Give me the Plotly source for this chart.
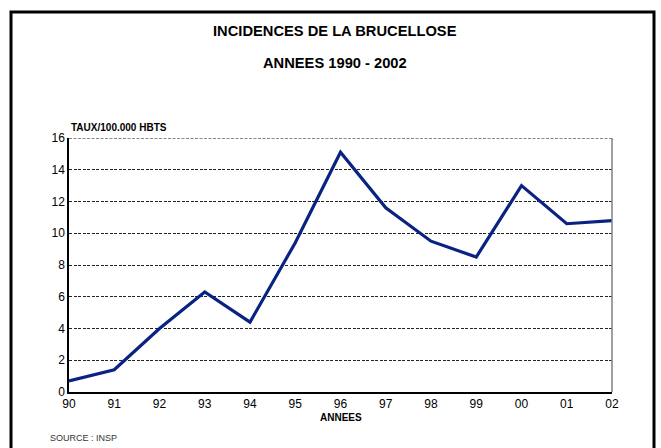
import plotly.graph_objects as go

years = ["90", "91", "92", "93", "94", "95", "96", "97", "98", "99", "00", "01", "02"]
rates = [0.7, 1.4, 4.0, 6.3, 4.4, 9.4, 15.1, 11.6, 9.5, 8.5, 13.0, 10.6, 10.8]
title_line1 = "INCIDENCES DE LA BRUCELLOSE"
title_line2 = "ANNEES 1990 - 2002"
y_label = "TAUX/100.000 HBTS"
x_label = "ANNEES"
source = "SOURCE : INSP"

W, H = 661, 448
L, R, T, B = 69, 612, 138, 392
pw, ph = R - L, B - T

def px(x):
    return (x - L) / pw

def py(y):
    return (B - y) / ph

xs = list(range(len(years)))

fig = go.Figure()
fig.add_trace(go.Scatter(
    x=xs, y=rates, mode="lines",
    line=dict(color="#0a2383", width=3.2),
    hoverinfo="skip", showlegend=False,
))

font = "Liberation Sans, Arial, sans-serif"
fig.update_layout(
    width=W, height=H,
    margin=dict(l=L, r=W - R, t=T, b=H - B),
    paper_bgcolor="white", plot_bgcolor="white",
    font=dict(family=font, color="black"),
    xaxis=dict(
        range=[0, 12], tickmode="array", tickvals=xs, ticktext=years,
        showgrid=False, zeroline=False, showline=True, linecolor="black",
        linewidth=1.5, ticks="", tickfont=dict(size=12, family=font), fixedrange=True,
    ),
    yaxis=dict(
        range=[0, 16], dtick=2, showgrid=True, gridcolor="#222222",
        griddash="3px,1.5px", gridwidth=1, zeroline=False, showline=True,
        linecolor="black", linewidth=1.5, ticks="",
        tickfont=dict(size=12, family=font), fixedrange=True,
    ),
    shapes=[
        dict(type="line", xref="paper", yref="y", x0=0, x1=1, y0=16, y1=16,
             line=dict(color="#111111", width=1.2, dash="3px,1.5px"), layer="above"),
        dict(type="line", xref="paper", yref="paper", x0=1, x1=1, y0=0, y1=1,
             line=dict(color="#808080", width=1.5)),
        dict(type="rect", xref="paper", yref="paper",
             x0=px(11), x1=px(654), y0=py(500), y1=py(12),
             line=dict(color="black", width=3), fillcolor="rgba(0,0,0,0)"),
    ],
    annotations=[
        dict(text="<b>" + title_line1 + "</b>", x=px(335), y=py(31), xref="paper", yref="paper",
             showarrow=False, xanchor="center", yanchor="middle", font=dict(size=14.7, family=font)),
        dict(text="<b>" + title_line2 + "</b>", x=px(335), y=py(62.5), xref="paper", yref="paper",
             showarrow=False, xanchor="center", yanchor="middle", font=dict(size=14.7, family=font)),
        dict(text="<b>" + y_label + "</b>", x=px(69), y=py(127), xref="paper", yref="paper",
             showarrow=False, xanchor="left", yanchor="middle", font=dict(size=10, family=font)),
        dict(text="<b>" + x_label + "</b>", x=px(341), y=py(417), xref="paper", yref="paper",
             showarrow=False, xanchor="center", yanchor="middle", font=dict(size=10, family=font)),
        dict(text=source, x=px(48), y=py(438), xref="paper", yref="paper",
             showarrow=False, xanchor="left", yanchor="middle",
             font=dict(size=9, family="Liberation Sans Narrow, Arial Narrow, Liberation Sans, sans-serif",
                       color="#333333")),
    ],
)

fig.write_html("out.html", config={"displayModeBar": False},
               post_script="document.body.style.margin='0';document.body.style.overflow='hidden';")
